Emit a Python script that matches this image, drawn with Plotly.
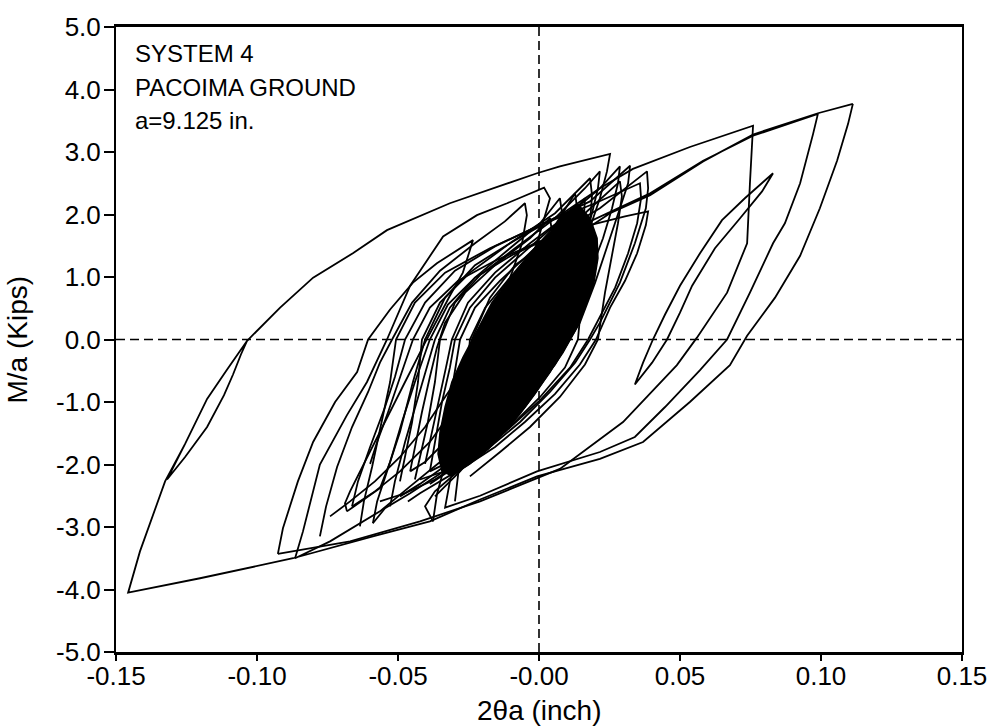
import plotly.graph_objects as go

# Moment-rotation hysteresis, rotation 2θa (inch) vs M/a (kips)

# largest excursion: positive peak, negative envelope, small reversal lens, top branch
outer_x = [0.1113, 0.1096, 0.1057, 0.0996, 0.0926, 0.0837, 0.0738, 0.0677, 0.0535, 0.0369,
           0.0216, -0.0007, -0.0209, -0.0387, -0.0589, -0.0872, -0.1202, -0.1457, -0.1415, -0.1326,
           -0.1255, -0.1177, -0.1106, -0.1035, -0.1057, -0.1085, -0.1117, -0.1177, -0.1255, -0.1319,
           -0.1255, -0.1177, -0.1106, -0.1035, -0.0918, -0.0801, -0.0660, -0.0539, -0.0316, -0.0007,
           0.0074, 0.0252, 0.0241, 0.0216, 0.0174, 0.0128, 0.0074, 0.0021, -0.0032, -0.0138,
           -0.0245, -0.0351, -0.0457, -0.0564, -0.0741, -0.0865]
outer_y = [3.77, 3.45, 2.86, 2.10, 1.34, 0.67, 0.06, -0.41, -1.00, -1.64,
           -1.91, -2.19, -2.56, -2.91, -3.15, -3.50, -3.82, -4.05, -3.39, -2.27,
           -1.67, -0.95, -0.48, -0.02, -0.24, -0.56, -0.89, -1.40, -1.88, -2.24,
           -1.67, -0.95, -0.48, -0.02, 0.51, 0.99, 1.38, 1.75, 2.18, 2.66,
           2.77, 2.97, 2.69, 2.26, 1.70, 1.19, 0.67, 0.19, -0.21, -0.92,
           -1.48, -1.96, -2.35, -2.75, -3.23, -3.50]

# narrow reversal on the positive side
needle_x = [0.0830, 0.0730, 0.0649, 0.0571, 0.0500, 0.0447, 0.0404, 0.0369, 0.0340,
            0.0401, 0.0454, 0.0500, 0.0543, 0.0624, 0.0713, 0.0791, 0.0830]
needle_y = [2.66, 2.26, 1.91, 1.38, 0.86, 0.40, 0.00, -0.37, -0.72,
            -0.37, 0.00, 0.43, 0.86, 1.46, 1.94, 2.37, 2.66]

# cycle reaching 3.4 kips
cycle_p1_x = [-0.0589, -0.0574, -0.0539, -0.0493, -0.0447, -0.0404, -0.0333, -0.0227, -0.0085, 0.0074,
              0.0216, 0.0333, 0.0535, 0.0759, 0.0748, 0.0738, 0.0667, 0.0560, 0.0489, 0.0298,
              0.0074, -0.0209, -0.0422, -0.0670, -0.0926]
cycle_p1_y = [-2.94, -2.59, -2.11, -1.48, -0.68, 0.00, 0.67, 1.19, 1.59, 1.99,
              2.42, 2.73, 3.08, 3.42, 2.50, 1.54, 0.75, 0.03, -0.41, -1.32,
              -2.07, -2.59, -2.91, -3.23, -3.43]

# cycle reaching 3.6 kips, then reloading to the 3.8 kips peak
cycle_p2_x = [-0.0376, -0.0362, -0.0340, -0.0309, -0.0273, -0.0238, -0.0174, -0.0085, 0.0039, 0.0216,
              0.0394, 0.0582, 0.0759, 0.0989, 0.0972, 0.0926, 0.0872, 0.0830, 0.0748, 0.0667,
              0.0571, 0.0447, 0.0340, 0.0216, -0.0007, -0.0209, -0.0333, -0.0316, -0.0280, -0.0245,
              -0.0209, -0.0174, -0.0121, -0.0032, 0.0092, 0.0252, 0.0394, 0.0582, 0.0759, 0.0989,
              0.1113]
cycle_p2_y = [-2.91, -2.48, -2.11, -1.48, -0.84, 0.00, 0.67, 1.19, 1.59, 1.97,
              2.34, 2.86, 3.26, 3.61, 3.29, 2.50, 1.86, 1.54, 0.75, 0.00,
              -0.49, -1.08, -1.56, -1.80, -2.11, -2.50, -2.69, -2.27, -1.64, -1.00,
              -0.37, 0.00, 0.59, 1.14, 1.54, 2.02, 2.31, 2.85, 3.28, 3.62,
              3.77]

# intermediate cycles around the central band
band_a_x = [-0.0926, -0.0908, -0.0855, -0.0801, -0.0723, -0.0645, -0.0606, -0.0528, -0.0447, -0.0362,
            -0.0234, -0.0270, -0.0316, -0.0362, -0.0404, -0.0475, -0.0546, -0.0617, -0.0670, -0.0688,
            -0.0681]
band_a_y = [-3.43, -3.02, -2.27, -1.64, -1.00, -0.52, 0.00, 0.48, 0.91, 1.22,
            1.59, 1.07, 0.70, 0.32, -0.05, -0.68, -1.32, -1.96, -2.43, -2.62,
            -2.75]

band_b_x = [-0.0681, -0.0564, -0.0528, -0.0486, -0.0440, -0.0387, -0.0323, -0.0227, -0.0096, 0.0057,
            0.0216, 0.0383, 0.0387, 0.0379, 0.0340, 0.0287, 0.0216, 0.0181, 0.0128, 0.0039,
            -0.0067, -0.0174, -0.0280, -0.0369, -0.0404, -0.0376]
band_b_y = [-2.75, -2.38, -1.96, -1.32, -0.68, 0.00, 0.56, 0.99, 1.35, 1.67,
            2.10, 2.69, 2.42, 2.10, 1.54, 0.91, 0.27, 0.00, -0.37, -0.84,
            -1.32, -1.72, -2.08, -2.43, -2.67, -2.91]

band_c_x = [-0.0865, -0.0837, -0.0777, -0.0681, -0.0610, -0.0539, -0.0457, -0.0340, -0.0220, -0.0113,
            0.0018, 0.0039, -0.0007, -0.0050, -0.0121, -0.0209, -0.0298, -0.0387, -0.0493, -0.0582,
            -0.0663]
band_c_y = [-3.50, -3.07, -2.00, -1.21, -0.68, 0.00, 0.86, 1.65, 1.99, 2.18,
            2.43, 2.26, 1.54, 1.10, 0.43, -0.37, -1.08, -1.64, -2.11, -2.43,
            -2.67]

band_d_x = [-0.0663, -0.0642, -0.0599, -0.0546, -0.0511, -0.0475, -0.0404, -0.0298, -0.0156, 0.0004,
            0.0181, 0.0323, 0.0316, 0.0287, 0.0245, 0.0199, 0.0145, 0.0110, 0.0057, -0.0032,
            -0.0138, -0.0245, -0.0351, -0.0457, -0.0546, -0.0589]
band_d_y = [-2.67, -2.27, -1.72, -1.08, -0.60, 0.00, 0.59, 1.10, 1.49, 1.83,
            2.21, 2.78, 2.50, 2.10, 1.54, 0.91, 0.27, 0.00, -0.40, -0.92,
            -1.40, -1.80, -2.15, -2.46, -2.70, -2.94]

band_e_x = [-0.0599, -0.0574, -0.0535, -0.0493, -0.0447, -0.0387, -0.0287, -0.0156, 0.0004, 0.0181,
            0.0305, 0.0387, 0.0379, 0.0348, 0.0305, 0.0252, 0.0202, 0.0145, 0.0057, -0.0050,
            -0.0156, -0.0262, -0.0351, -0.0422, -0.0465]
band_e_y = [-1.99, -1.64, -1.16, -0.60, 0.00, 0.51, 0.94, 1.26, 1.57, 1.83,
            1.97, 2.05, 1.83, 1.38, 0.94, 0.51, 0.00, -0.40, -0.87, -1.32,
            -1.72, -2.03, -2.27, -2.46, -2.59]

band_f_x = [-0.0440, -0.0422, -0.0394, -0.0369, -0.0351, -0.0298, -0.0209, -0.0085, 0.0057, 0.0163,
            0.0216, 0.0209, 0.0188, 0.0152, 0.0117, 0.0082, 0.0057, 0.0004, -0.0085, -0.0174,
            -0.0273, -0.0351, -0.0422, -0.0493]
band_f_y = [-2.24, -1.88, -1.32, -0.68, 0.00, 0.59, 1.03, 1.46, 1.94, 2.42,
            2.69, 2.42, 2.02, 1.46, 0.91, 0.43, 0.00, -0.45, -1.00, -1.45,
            -1.83, -2.08, -2.31, -2.51]

band_g_x = [-0.0404, -0.0379, -0.0351, -0.0330, -0.0309, -0.0252, -0.0156, -0.0032, 0.0110, 0.0216,
            0.0287, 0.0280, 0.0259, 0.0227, 0.0181, 0.0138, 0.0103, 0.0039, -0.0050, -0.0145,
            -0.0245, -0.0323, -0.0387]
band_g_y = [-1.99, -1.48, -0.92, -0.45, 0.00, 0.59, 1.07, 1.54, 2.02, 2.42,
            2.77, 2.50, 2.10, 1.62, 1.07, 0.59, 0.00, -0.52, -1.08, -1.51,
            -1.88, -2.11, -2.31]

band_h_x = [-0.0351, -0.0337, -0.0316, -0.0298, -0.0280, -0.0227, -0.0138, -0.0014, 0.0092, 0.0163,
            0.0160, 0.0145, 0.0121, 0.0092, 0.0074, 0.0021, -0.0067, -0.0156, -0.0245, -0.0316,
            -0.0351]
band_h_y = [-1.99, -1.64, -1.00, -0.52, 0.00, 0.51, 0.94, 1.46, 1.89, 2.26,
            2.02, 1.62, 1.14, 0.67, 0.27, -0.21, -0.76, -1.24, -1.64, -1.92,
            -1.99]

band_i_x = [-0.0493, -0.0475, -0.0450, -0.0429, -0.0415, -0.0351, -0.0245, -0.0103, 0.0057, 0.0181,
            0.0188, 0.0181, 0.0170, 0.0152, 0.0138, 0.0092, 0.0004, -0.0103, -0.0209, -0.0316,
            -0.0422]
band_i_y = [-2.27, -1.88, -1.32, -0.68, 0.00, 0.59, 1.07, 1.54, 2.02, 2.58,
            2.31, 1.86, 1.30, 0.67, 0.00, -0.45, -0.92, -1.40, -1.80, -2.08,
            -2.24]

band_j_x = [-0.0528, -0.0511, -0.0475, -0.0429, -0.0394, -0.0369, -0.0316, -0.0227, -0.0103, 0.0004,
            0.0074, 0.0082, 0.0074, 0.0064, 0.0057, 0.0032, -0.0014, -0.0096, -0.0191, -0.0280,
            -0.0369]
band_j_y = [-2.67, -2.27, -1.64, -0.92, -0.37, 0.00, 0.51, 0.99, 1.46, 1.86,
            2.26, 2.02, 1.54, 0.99, 0.43, -0.05, -0.52, -1.08, -1.64, -2.11,
            -2.51]

band_k_x = [-0.0635, -0.0621, -0.0592, -0.0557, -0.0528, -0.0507, -0.0440, -0.0333, -0.0174, 0.0004,
            0.0199, 0.0358, 0.0362, 0.0348, 0.0316, 0.0270, 0.0216, 0.0174, 0.0110, 0.0004,
            -0.0121, -0.0245, -0.0369, -0.0475, -0.0564]
band_k_y = [-2.99, -2.59, -2.04, -1.32, -0.68, 0.00, 0.59, 1.07, 1.46, 1.83,
            2.18, 2.50, 2.26, 1.86, 1.38, 0.83, 0.35, 0.00, -0.45, -0.97,
            -1.48, -1.88, -2.24, -2.46, -2.59]

band_l_x = [-0.0387, -0.0369, -0.0344, -0.0316, -0.0298, -0.0245, -0.0156, -0.0050, 0.0057, 0.0128,
            0.0135, 0.0128, 0.0110, 0.0092, 0.0074, 0.0021, -0.0067, -0.0156, -0.0245, -0.0333,
            -0.0387]
band_l_y = [-2.11, -1.64, -1.00, -0.45, 0.00, 0.51, 0.99, 1.41, 1.83, 2.34,
            2.10, 1.62, 1.14, 0.59, 0.11, -0.29, -0.84, -1.32, -1.72, -1.99,
            -2.11]

band_m_x = [-0.0777, -0.0755, -0.0716, -0.0663, -0.0606, -0.0564, -0.0521, -0.0450, -0.0351, -0.0227,
            -0.0121, -0.0050, -0.0043, -0.0060, -0.0096, -0.0145, -0.0202, -0.0262, -0.0333, -0.0404,
            -0.0493, -0.0582, -0.0670, -0.0741]
band_m_y = [-3.15, -2.67, -2.04, -1.40, -0.84, -0.37, 0.00, 0.59, 1.10, 1.54,
            1.89, 2.18, 1.99, 1.54, 1.07, 0.51, 0.00, -0.45, -0.92, -1.40,
            -1.88, -2.27, -2.59, -2.83]

band_n_x = [-0.0298, -0.0287, -0.0273, -0.0262, -0.0255, -0.0245, -0.0191, -0.0103, 0.0021, 0.0163,
            0.0287, 0.0294, 0.0280, 0.0259, 0.0234, 0.0209, 0.0163, 0.0074, -0.0032, -0.0138,
            -0.0245]
band_n_y = [-2.59, -2.19, -1.64, -1.00, -0.52, 0.00, 0.51, 0.99, 1.46, 2.02,
            2.53, 2.29, 1.86, 1.38, 0.75, 0.00, -0.40, -0.92, -1.40, -1.80,
            -2.19]

band_o_x = [-0.0457, -0.0440, -0.0415, -0.0387, -0.0362, -0.0333, -0.0262, -0.0156, -0.0032, 0.0039,
            0.0046, 0.0032, 0.0004, -0.0032, -0.0085, -0.0156, -0.0245, -0.0333, -0.0404, -0.0457]
band_o_y = [-2.11, -1.72, -1.16, -0.60, -0.13, 0.27, 0.75, 1.19, 1.62, 1.94,
            1.73, 1.30, 0.83, 0.27, -0.21, -0.68, -1.16, -1.64, -1.96, -2.11]

# outline of the densely overlapping small cycles
core_x = [0.0135, 0.0181, 0.0206, 0.0209, 0.0195, 0.0163, 0.0128, 0.0085, 0.0032, -0.0014,
          -0.0067, -0.0121, -0.0181, -0.0245, -0.0309, -0.0344, -0.0358, -0.0351, -0.0333, -0.0309,
          -0.0270, -0.0223, -0.0167, -0.0103, -0.0032, 0.0039, 0.0092]
core_y = [2.18, 1.94, 1.62, 1.30, 0.91, 0.51, 0.14, -0.21, -0.56, -0.87,
          -1.19, -1.48, -1.76, -1.99, -2.18, -2.11, -1.83, -1.48, -1.08, -0.68,
          -0.29, 0.11, 0.59, 0.99, 1.38, 1.73, 2.02]

x_ticks = [-0.15, -0.10, -0.05, 0.0, 0.05, 0.10, 0.15]
x_tick_text = ["-0.15", "-0.10", "-0.05", "-0.00", "0.05", "0.10", "0.15"]
y_ticks = [5, 4, 3, 2, 1, 0, -1, -2, -3, -4, -5]
y_tick_text = ["5.0", "4.0", "3.0", "2.0", "1.0", "0.0", "-1.0", "-2.0", "-3.0", "-4.0", "-5.0"]

info_lines = ["SYSTEM 4", "PACOIMA GROUND", "a=9.125 in."]

paths = [
    (outer_x, outer_y), (needle_x, needle_y), (cycle_p1_x, cycle_p1_y), (cycle_p2_x, cycle_p2_y),
    (band_a_x, band_a_y), (band_b_x, band_b_y), (band_c_x, band_c_y), (band_d_x, band_d_y),
    (band_e_x, band_e_y), (band_f_x, band_f_y), (band_g_x, band_g_y), (band_h_x, band_h_y),
    (band_i_x, band_i_y), (band_j_x, band_j_y), (band_k_x, band_k_y), (band_l_x, band_l_y),
    (band_m_x, band_m_y), (band_n_x, band_n_y), (band_o_x, band_o_y),
]
for px, py in paths:
    assert len(px) == len(py)
assert len(core_x) == len(core_y)

FONT = "Liberation Sans, Arial, Helvetica, sans-serif"

fig = go.Figure()
fig.add_trace(go.Scatter(x=core_x, y=core_y, mode="lines", fill="toself", fillcolor="black",
                         line=dict(color="black", width=1.5), hoverinfo="skip"))
for px, py in paths:
    fig.add_trace(go.Scatter(x=px, y=py, mode="lines",
                             line=dict(color="black", width=1.8), hoverinfo="skip"))

# dashed reference axes through the origin
fig.add_shape(type="line", x0=0, x1=0, y0=-5, y1=5, xref="x", yref="y", layer="below",
              line=dict(color="black", width=1.6, dash="9px,5px"))
fig.add_shape(type="line", x0=-0.15, x1=0.15, y0=0, y1=0, xref="x", yref="y", layer="below",
              line=dict(color="black", width=1.6, dash="9px,5px"))

for i, txt in enumerate(info_lines):
    fig.add_annotation(text=txt, xref="paper", yref="paper", x=0.020, y=0.958 - 0.054 * i,
                       xanchor="left", yanchor="middle", showarrow=False,
                       font=dict(family=FONT, size=24, color="black"))

fig.add_annotation(text="2θa (inch)", xref="paper", yref="paper", x=0.5, y=-0.093,
                   xanchor="center", yanchor="middle", showarrow=False,
                   font=dict(family=FONT, size=28, color="black"))
fig.add_annotation(text="M/a (Kips)", xref="paper", yref="paper", x=-0.117, y=0.5,
                   xanchor="center", yanchor="middle", showarrow=False, textangle=-90,
                   font=dict(family=FONT, size=28, color="black"))

fig.update_layout(
    width=1000, height=727,
    margin=dict(l=116, r=38, t=23, b=75),
    paper_bgcolor="white", plot_bgcolor="white",
    showlegend=False,
    font=dict(family=FONT, color="black"),
    xaxis=dict(range=[-0.15, 0.15], tickvals=x_ticks, ticktext=x_tick_text,
               showgrid=False, zeroline=False, showline=True, mirror=True,
               linecolor="black", linewidth=2.5, ticks="outside", ticklen=6, tickwidth=2,
               tickcolor="black", ticklabelstandoff=-7,
               tickfont=dict(family=FONT, size=26, color="black")),
    yaxis=dict(range=[-5, 5], tickvals=y_ticks, ticktext=y_tick_text,
               showgrid=False, zeroline=False, showline=True, mirror=True,
               linecolor="black", linewidth=2, ticks="outside", ticklen=10, tickwidth=2,
               tickcolor="black", ticklabelstandoff=-2,
               tickfont=dict(family=FONT, size=26, color="black")),
)

fig.write_html("out.html")
